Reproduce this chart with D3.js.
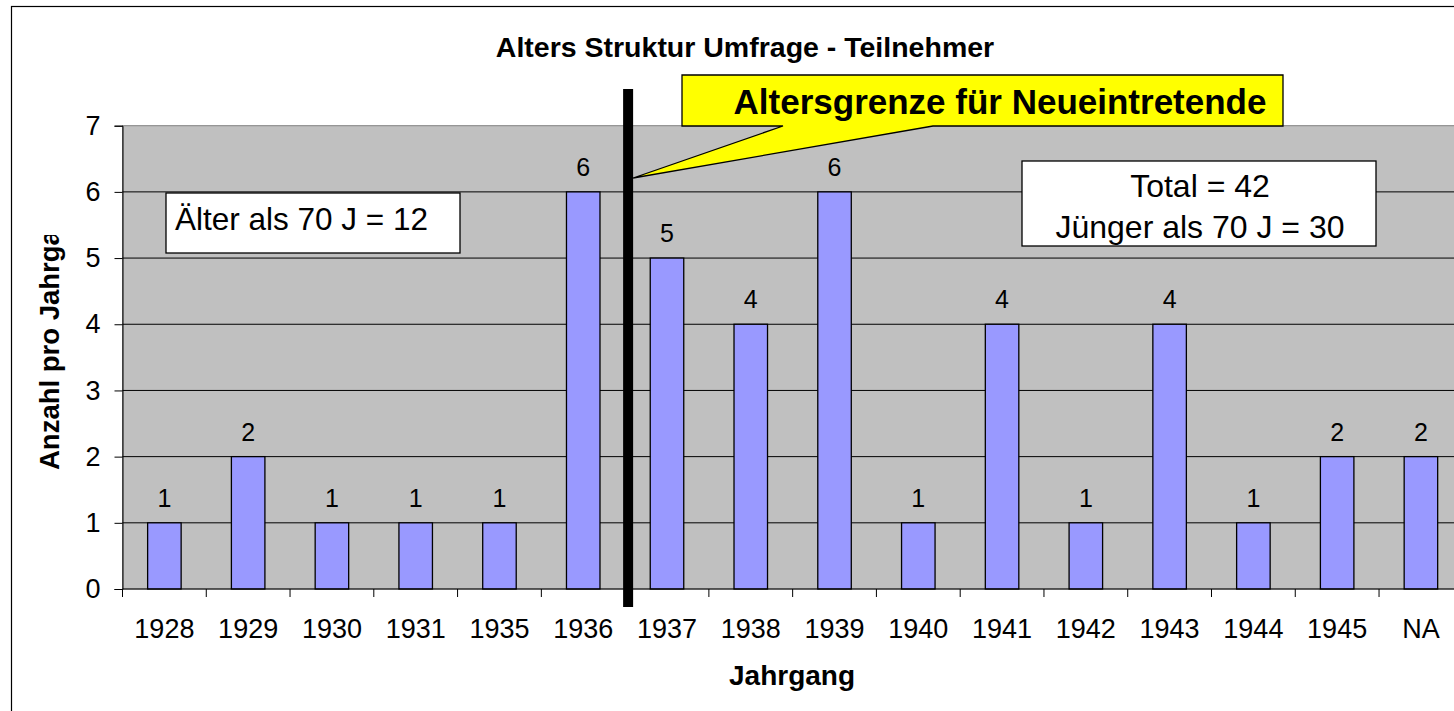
<!DOCTYPE html>
<html><head><meta charset="utf-8">
<script src="https://cdn.jsdelivr.net/npm/d3@7"></script>
<style>body{margin:0;background:#fff}svg{display:block;font-family:"Liberation Sans",Arial,sans-serif}</style>
</head><body>
<svg id="c" width="1454" height="711"></svg>
<script>
const categories = ["1928","1929","1930","1931","1935","1936","1937","1938","1939","1940","1941","1942","1943","1944","1945","NA"];
const values = [1,2,1,1,1,6,5,4,6,1,4,1,4,1,2,2];
const yTicks = [0,1,2,3,4,5,6,7];
const title = "Alters Struktur Umfrage - Teilnehmer";
const xTitle = "Jahrgang";
const yTitle = "Anzahl pro Jahrgang";
const calloutText = "Altersgrenze für Neueintretende";
const leftNote = ["Älter als 70 J = 12"];
const rightNote = ["Total = 42", "Jünger als 70 J = 30"];
const cutoffAfter = "1936";

const svg = d3.select("#c");
const L = 122.5, T = 125.7, B = 589, R = 1462.8;
const x = d3.scaleBand().domain(categories).range([L, R]).paddingInner(0.6).paddingOuter(0.3);
const y = d3.scaleLinear().domain([0, 7]).range([B, T]);

// outer frame
svg.append("rect").attr("x", 11.5).attr("y", 6.5).attr("width", 1460).attr("height", 720)
  .attr("fill", "#fff").attr("stroke", "#000").attr("stroke-width", 1.2);

// plot area
svg.append("rect").attr("x", L).attr("y", T).attr("width", R - L).attr("height", B - T)
  .attr("fill", "#C0C0C0").attr("stroke", "#808080").attr("stroke-width", 1);

// grid
svg.append("g").selectAll("line").data(yTicks.filter(d => d > 0 && d < 7)).join("line")
  .attr("x1", L).attr("x2", R).attr("y1", d => y(d)).attr("y2", d => y(d))
  .attr("stroke", "#000").attr("stroke-width", 1);

// bars
svg.append("g").selectAll("rect").data(values).join("rect")
  .attr("x", (d, i) => x(categories[i])).attr("width", x.bandwidth())
  .attr("y", d => y(d)).attr("height", d => B - y(d))
  .attr("fill", "#9999FF").attr("stroke", "#000").attr("stroke-width", 1.3);

// value labels
svg.append("g").selectAll("text").data(values).join("text")
  .attr("x", (d, i) => x(categories[i]) + x.bandwidth() / 2).attr("y", d => y(d) - 16)
  .attr("text-anchor", "middle").attr("font-size", 25).attr("fill", "#000").text(d => d);

// y axis
const yAxis = d3.axisLeft(y).tickValues(yTicks).tickSize(8).tickPadding(14).tickFormat(d3.format("d"));
const gy = svg.append("g").attr("transform", `translate(${L},0)`).call(yAxis);
gy.select(".domain").attr("stroke", "#000");
gy.selectAll(".tick line").attr("stroke", "#000");
gy.selectAll("text").attr("font-size", 27).attr("font-family", "Liberation Sans, Arial, sans-serif").attr("fill", "#000");

// x axis
const step = x.step();
const boundaries = d3.range(categories.length + 1).map(i => L + i * step);
svg.append("line").attr("x1", L).attr("x2", R).attr("y1", B).attr("y2", B).attr("stroke", "#000").attr("stroke-width", 1.2);
svg.append("g").selectAll("line").data(boundaries).join("line")
  .attr("x1", d => d).attr("x2", d => d).attr("y1", B).attr("y2", B + 8).attr("stroke", "#000");
svg.append("g").selectAll("text").data(categories).join("text")
  .attr("x", d => x(d) + x.bandwidth() / 2).attr("y", 638)
  .attr("text-anchor", "middle").attr("font-size", 27).attr("fill", "#000").text(d => d);

// titles
svg.append("text").attr("x", 745).attr("y", 57).attr("text-anchor", "middle")
  .attr("font-size", 28.5).attr("font-weight", "bold").text(title);
svg.append("text").attr("x", 792).attr("y", 685).attr("text-anchor", "middle")
  .attr("font-size", 28).attr("font-weight", "bold").text(xTitle);
svg.append("clipPath").attr("id", "yclip").append("rect").attr("x", 0).attr("y", 235).attr("width", 100).attr("height", 400);
svg.append("g").attr("clip-path", "url(#yclip)")
  .append("text").attr("transform", "translate(59,470) rotate(-90)").attr("text-anchor", "start")
  .attr("font-size", 27.5).attr("font-weight", "bold").text(yTitle);

// cutoff line
const ci = categories.indexOf(cutoffAfter);
const cx = L + (ci + 1) * step + 3;
svg.append("rect").attr("x", cx - 5).attr("y", 89).attr("width", 10).attr("height", 518).attr("fill", "#000");

// callout
const cbx = 682, cby = 75, cbw = 601, cbh = 51;
svg.append("path")
  .attr("d", `M${cbx},${cby} H${cbx + cbw} V${cby + cbh} H933 L${cx + 5},178 L783,${cby + cbh} H${cbx} Z`)
  .attr("fill", "#FFFF00").attr("stroke", "#000").attr("stroke-width", 1.3);
svg.append("text").attr("x", 1000).attr("y", 114).attr("text-anchor", "middle")
  .attr("font-size", 35).attr("font-weight", "bold").text(calloutText);

// left note
svg.append("rect").attr("x", 166).attr("y", 193).attr("width", 294).attr("height", 60)
  .attr("fill", "#fff").attr("stroke", "#000").attr("stroke-width", 1.3);
svg.append("text").attr("x", 175).attr("y", 230).attr("font-size", 31.5).text(leftNote[0]);

// right note
svg.append("rect").attr("x", 1022).attr("y", 161).attr("width", 354).attr("height", 85)
  .attr("fill", "#fff").attr("stroke", "#000").attr("stroke-width", 1.3);
svg.append("g").selectAll("text").data(rightNote).join("text")
  .attr("x", 1200).attr("y", (d, i) => 197 + i * 41).attr("text-anchor", "middle")
  .attr("font-size", 32).text(d => d);
</script>
</body></html>
